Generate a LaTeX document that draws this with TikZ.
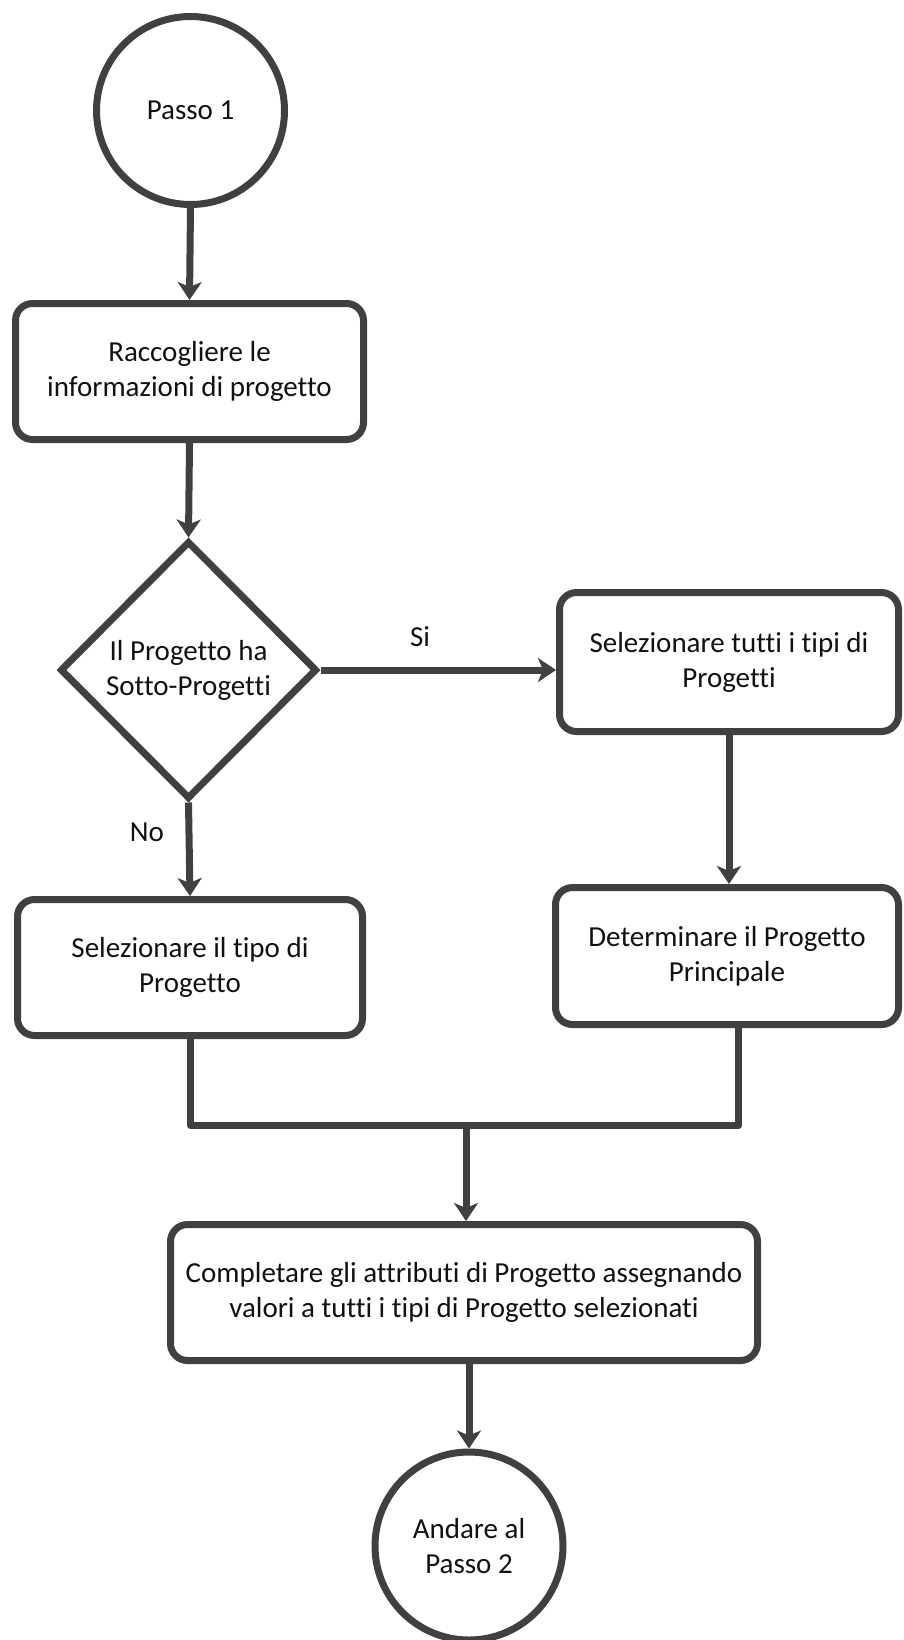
\documentclass[tikz,border=0pt]{standalone}
\usepackage{fontspec}
\setmainfont{Carlito}[RawFeature={-liga}]
\usetikzlibrary{arrows.meta,shapes.geometric}
\definecolor{linec}{HTML}{404040}
\definecolor{textc}{HTML}{111111}
\begin{document}
\begin{tikzpicture}[x=1pt,y=-1pt,
  every node/.style={text=textc, font=\fontsize{29}{35}\selectfont, align=center, inner sep=0pt},
  shapeline/.style={draw=linec, line width=7pt, fill=white},
  stepbox/.style={shapeline, rectangle, rounded corners=17pt},
  terminal/.style={shapeline, circle, minimum size=188pt},
  decision/.style={shapeline, diamond, aspect=1},
  flow/.style={draw=linec, line width=7pt, line join=round},
  flowarrow/.style={flow, -{Stealth[length=18pt,width=24pt,inset=5pt]}}]

\useasboundingbox (0,0) rectangle (903,1640);

% nodes
\node[terminal] (start) at (190.5,110.5) {Passo 1};
\node[stepbox, minimum width=348pt, minimum height=136pt] (gather) at (189.5,371.5)
  {Raccogliere le\\informazioni di progetto};
\node[decision, minimum width=257pt, minimum height=258pt] (check) at (188.5,670)
  {Il Progetto ha\\Sotto-Progetti};
\node[stepbox, minimum width=339pt, minimum height=139pt] (selall) at (729,662)
  {Selezionare tutti i tipi di\\Progetti};
\node[stepbox, minimum width=343pt, minimum height=137pt] (main) at (727,956)
  {Determinare il Progetto\\Principale};
\node[stepbox, minimum width=345pt, minimum height=136pt] (selone) at (190,967.5)
  {Selezionare il tipo di\\Progetto};
\node[stepbox, minimum width=587pt, minimum height=136pt] (attrs) at (464,1292.5)
  {Completare gli attributi di Progetto assegnando\\valori a tutti i tipi di Progetto selezionati};
\node[terminal] (stop) at (469,1546) {Andare al\\Passo 2};

% branch labels
\node (yes) at (420,637) {Si};
\node (no) at (147,832) {No};

% junction of the two branches
\coordinate (join) at (466,1125.5);

% connectors
\draw[flowarrow] (start.south) -- (gather.north);
\draw[flowarrow] (gather.south) -- (check.north);
\draw[flowarrow] (check.east) -- (check.east -| selall.west);
\draw[flowarrow] (check.south) -- (selone.north);
\draw[flowarrow] (selall.south) -- (selall.south |- main.north);
\draw[flow] (selone.south) |- (join) -| ([xshift=11.5pt]main.south);
\draw[flowarrow] (join) -- (join |- attrs.north);
\draw[flowarrow] (stop.north |- attrs.south) -- (stop.north);
\end{tikzpicture}
\end{document}
